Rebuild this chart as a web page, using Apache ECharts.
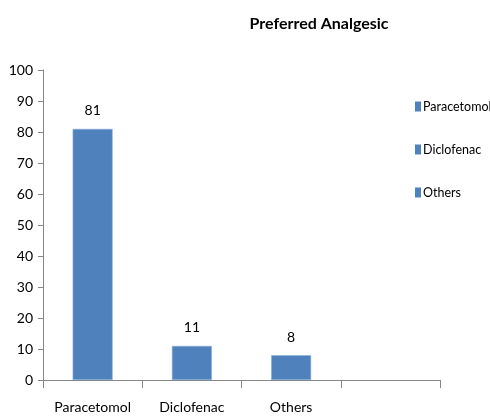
<!DOCTYPE html>
<html><head><meta charset="utf-8">
<script src="https://cdn.jsdelivr.net/npm/echarts@6/dist/echarts.min.js"></script>
<style>html,body{margin:0;padding:0;background:#fff}#c{width:490px;height:416px}</style>
</head><body><div id="c"></div>
<script>
var categories = ['Paracetomol', 'Diclofenac', 'Others', ''];
var seriesNames = ['Paracetomol', 'Diclofenac', 'Others'];
var values = [81, 11, 8];
var yTicks = [0, 10, 20, 30, 40, 50, 60, 70, 80, 90, 100];

var FONT = 'Lato, "Liberation Sans Narrow", sans-serif';
var chart = echarts.init(document.getElementById('c'));
var series = seriesNames.map(function (name, i) {
  var data = categories.map(function (c, j) { return j === i ? values[i] : '-'; });
  return {
    name: name, type: 'bar', stack: 'all', data: data, barWidth: 40,
    itemStyle: { color: '#4F81BD', borderColor: '#8FB0DA', borderWidth: 0.6 },
    label: { show: true, position: 'top', distance: 11, color: '#000', fontSize: 14, fontFamily: FONT }
  };
});
chart.setOption({
  animation: false,
  title: { text: 'Preferred Analgesic', left: 314, top: 11, textAlign: 'center',
    textStyle: { fontSize: 16, fontWeight: 'bold', color: '#000', fontFamily: FONT } },
  legend: { orient: 'vertical', left: 410, top: 95, itemGap: 30, itemWidth: 6, itemHeight: 10,
    icon: 'rect', data: seriesNames,
    itemStyle: { borderWidth: 0 },
    textStyle: { fontSize: 12.5, color: '#000', fontFamily: FONT, padding: [0, 0, 0, -3] } },
  grid: { left: 43, right: 50, top: 70, bottom: 36, containLabel: false },
  xAxis: { type: 'category', data: categories,
    axisLine: { lineStyle: { color: '#868686' } },
    axisTick: { show: true, length: 8, interval: 0, lineStyle: { color: '#868686' } },
    axisLabel: { color: '#000', fontSize: 14, fontFamily: FONT, margin: 20, interval: 0 } },
  yAxis: { type: 'value', min: yTicks[0], max: yTicks[yTicks.length - 1], interval: 10,
    axisLine: { show: true, lineStyle: { color: '#868686' } },
    axisTick: { show: true, length: 5, lineStyle: { color: '#868686' } },
    splitLine: { show: false },
    axisLabel: { color: '#000', fontSize: 14, fontFamily: FONT, margin: 10 } },
  series: series
});
</script></body></html>
